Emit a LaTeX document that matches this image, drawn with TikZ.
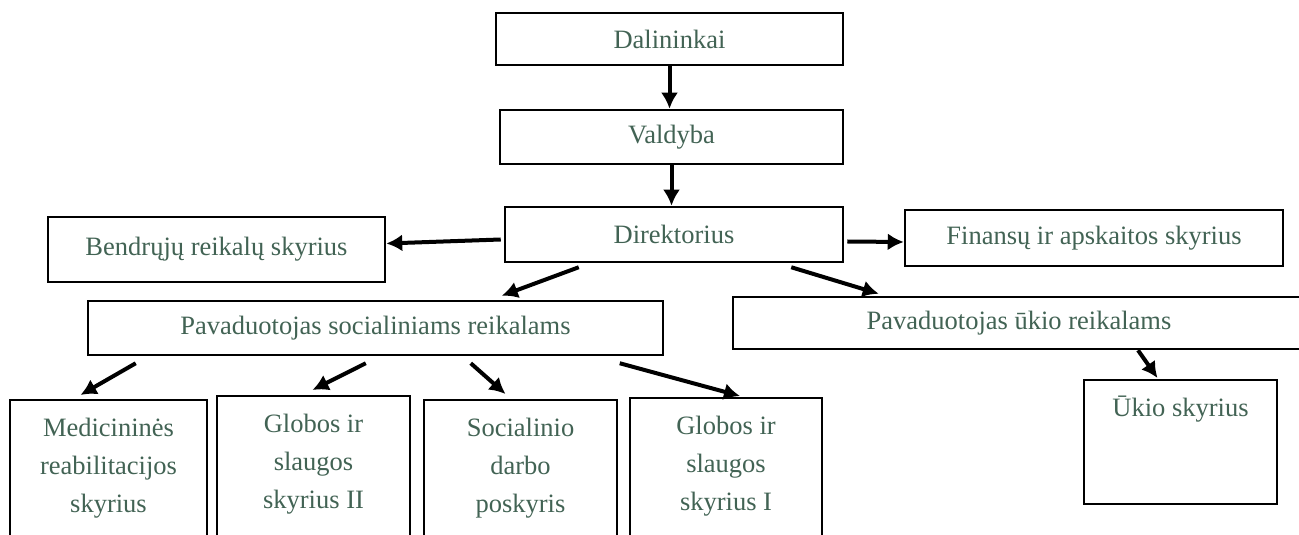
\documentclass[tikz,border=0pt]{standalone}
\usepackage{fontspec}
\setmainfont{Liberation Serif}
\usepackage{tikz}
\usetikzlibrary{arrows.meta,positioning}
\definecolor{boxtext}{RGB}{66,99,84}
\tikzset{
  box/.style  = {draw, line width=2.5pt, rectangle, align=center, text=boxtext,
                 font=\fontsize{26.5}{38}\selectfont, inner sep=0pt},
  dept/.style = {box, anchor=north, inner xsep=4pt, inner ysep=10pt,
                 text height=102pt, text depth=30pt}
}

\begin{document}
\begin{tikzpicture}[x=1pt, y=1pt, >={Latex[length=16pt,width=17pt]},
  conn/.style={->, line width=4pt}]
\useasboundingbox (0,0) rectangle (1299,535);

% the top of the chart
\node[box, minimum width=347pt, minimum height=52pt] (dal) at (669.5,496) {Dalininkai};
\node[box, minimum width=343pt, minimum height=54pt] (val) at (671.5,398) {Valdyba};
\node[box, minimum width=338pt, minimum height=55pt] (dir) at (674,300.5) {Direktorius};
% beside the director
\node[box, minimum width=337pt, minimum height=65pt] (bend) at (216.5,285.5) {Bendrųjų reikalų skyrius};
\node[box, minimum width=378pt, minimum height=56pt] (fin) at (1094,297) {Finansų ir apskaitos skyrius};
% the two deputies
\node[box, minimum width=575pt, minimum height=54pt] (psoc) at (375.5,207) {Pavaduotojas socialiniams reikalams};
\node[box, minimum width=572pt, minimum height=52pt] (pukio) at (1019,212) {Pavaduotojas ūkio reikalams};
% the departments
\node[dept, minimum width=197pt] (med) at (108.5,136) {Medicininės\\reabilitacijos\\skyrius};
\node[dept, minimum width=193pt] (glo2) at (313.5,140) {Globos ir\\slaugos\\skyrius II};
\node[dept, minimum width=193pt] (soc) at (520.5,136) {Socialinio\\darbo\\poskyris};
\node[dept, minimum width=192pt] (glo1) at (726,138) {Globos ir\\slaugos\\skyrius I};
\node[dept, minimum width=193pt, text height=26pt, text depth=78pt] (ukio) at (1180.5,156) {Ūkio skyrius};

\draw[conn] (dal.south) -- (dal.south |- val.north);
\draw[conn] (val.south) -- (val.south |- dir.north);
\draw[conn] ([shift={(-3,-5)}]dir.west) -- ([yshift=6pt]bend.east);
\draw[conn] ([shift={(3,-7)}]dir.east) -- ([yshift=-4pt]fin.west);
\draw[conn] ([shift={(75,-4)}]dir.south west) -- ([shift={(415,4)}]psoc.north west);
\draw[conn] ([shift={(-53,-4)}]dir.south east) -- ([shift={(147,2)}]pukio.north west);
\draw[conn] ([shift={(49,-7)}]psoc.south west) -- ([shift={(-28,4)}]med.north);
\draw[conn] ([shift={(279,-7)}]psoc.south west) -- ([shift={(-1,5)}]glo2.north);
\draw[conn] ([shift={(384,-7)}]psoc.south west) -- ([shift={(-15,5)}]soc.north);
\draw[conn] ([shift={(533,-7)}]psoc.south west) -- ([shift={(14,1)}]glo1.north);
\draw[conn] ([xshift=119pt]pukio.south) -- ([shift={(-23,1)}]ukio.north);

\end{tikzpicture}
\end{document}
